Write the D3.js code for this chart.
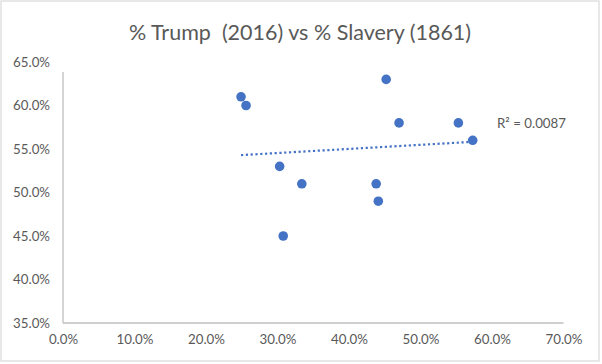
<!DOCTYPE html>
<html>
<head>
<meta charset="utf-8">
<script src="https://cdn.jsdelivr.net/npm/d3@7"></script>
<style>
  html, body { margin: 0; padding: 0; background: #fff; }
  svg { display: block; }
  text { font-family: Lato, "Liberation Sans", sans-serif; fill: #595959; }
</style>
</head>
<body>
<svg id="chart" width="602" height="364"></svg>
<script>
// ---- Data (fractions) ----
const slavery1861 = [0.249, 0.256, 0.303, 0.308, 0.334, 0.438, 0.441, 0.452, 0.470, 0.553, 0.573];
const trump2016   = [0.61,  0.60,  0.53,  0.45,  0.51,  0.51,  0.49,  0.63,  0.58,  0.58,  0.56];
const xTicks = [0, 0.1, 0.2, 0.3, 0.4, 0.5, 0.6, 0.7];
const yTicks = [0.35, 0.40, 0.45, 0.50, 0.55, 0.60, 0.65];
const titleText = "% Trump  (2016) vs % Slavery (1861)";
const r2Label = "R² = 0.0087";

const W = 602, H = 364;
const svg = d3.select("#chart");

// chart border
svg.append("rect").attr("x", 1).attr("y", 1).attr("width", 598).attr("height", 360)
  .attr("fill", "#fff").attr("stroke", "#d9d9d9").attr("stroke-width", 1.2);

const x = d3.scaleLinear().domain([0, 0.7]).range([63, 563.5]);
const y = d3.scaleLinear().domain([0.35, 0.65]).range([323, 62]);

// title
svg.append("text").attr("x", 300).attr("y", 32)
  .attr("text-anchor", "middle").attr("dominant-baseline", "central")
  .attr("xml:space", "preserve").style("white-space", "pre")
  .style("font-size", "21.5px").text(titleText);

const fmt = d3.format(".1%");

// y axis
const yAxis = d3.axisLeft(y).tickValues(yTicks).tickFormat(fmt).tickSize(0).tickPadding(13);
const gy = svg.append("g").attr("transform", `translate(${x(0)},0)`).call(yAxis);
gy.select(".domain").remove();
gy.selectAll("text").style("font-size", "13.3px").attr("fill", "#595959")
  .style("font-family", "Lato, 'Liberation Sans', sans-serif");
svg.append("line").attr("x1", x(0)).attr("x2", x(0)).attr("y1", y(0.65) + 10).attr("y2", y(0.35))
  .attr("stroke", "#bfbfbf").attr("stroke-width", 1.3);

// x axis
const xAxis = d3.axisBottom(x).tickValues(xTicks).tickFormat(fmt).tickSize(0).tickPadding(12);
const gx = svg.append("g").attr("transform", `translate(0,${y(0.35)})`).call(xAxis);
gx.select(".domain").remove();
gx.selectAll("text").style("font-size", "13.3px").attr("fill", "#595959")
  .style("font-family", "Lato, 'Liberation Sans', sans-serif");
svg.append("line").attr("x1", x(0)).attr("x2", x(0.7)).attr("y1", y(0.35)).attr("y2", y(0.35))
  .attr("stroke", "#bfbfbf").attr("stroke-width", 1.3);

// linear regression trendline
const n = slavery1861.length;
const mx = d3.mean(slavery1861), my = d3.mean(trump2016);
let sxy = 0, sxx = 0;
for (let i = 0; i < n; i++) { sxy += (slavery1861[i] - mx) * (trump2016[i] - my); sxx += (slavery1861[i] - mx) ** 2; }
const slope = sxy / sxx, icpt = my - slope * mx;
const [x0, x1] = d3.extent(slavery1861);
svg.append("line")
  .attr("x1", x(x0)).attr("y1", y(icpt + slope * x0))
  .attr("x2", x(x1)).attr("y2", y(icpt + slope * x1))
  .attr("stroke", "#4472C4").attr("stroke-width", 2.2)
  .attr("stroke-dasharray", "2.2,2.6");

// points
svg.append("g").selectAll("circle")
  .data(slavery1861.map((d, i) => [d, trump2016[i]]))
  .join("circle")
  .attr("cx", d => x(d[0])).attr("cy", d => y(d[1])).attr("r", 4.8)
  .attr("fill", "#4472C4");

// R² label
svg.append("text").attr("x", 497).attr("y", 123).attr("dominant-baseline", "central")
  .style("font-size", "13.3px").text(r2Label);
</script>
</body>
</html>
